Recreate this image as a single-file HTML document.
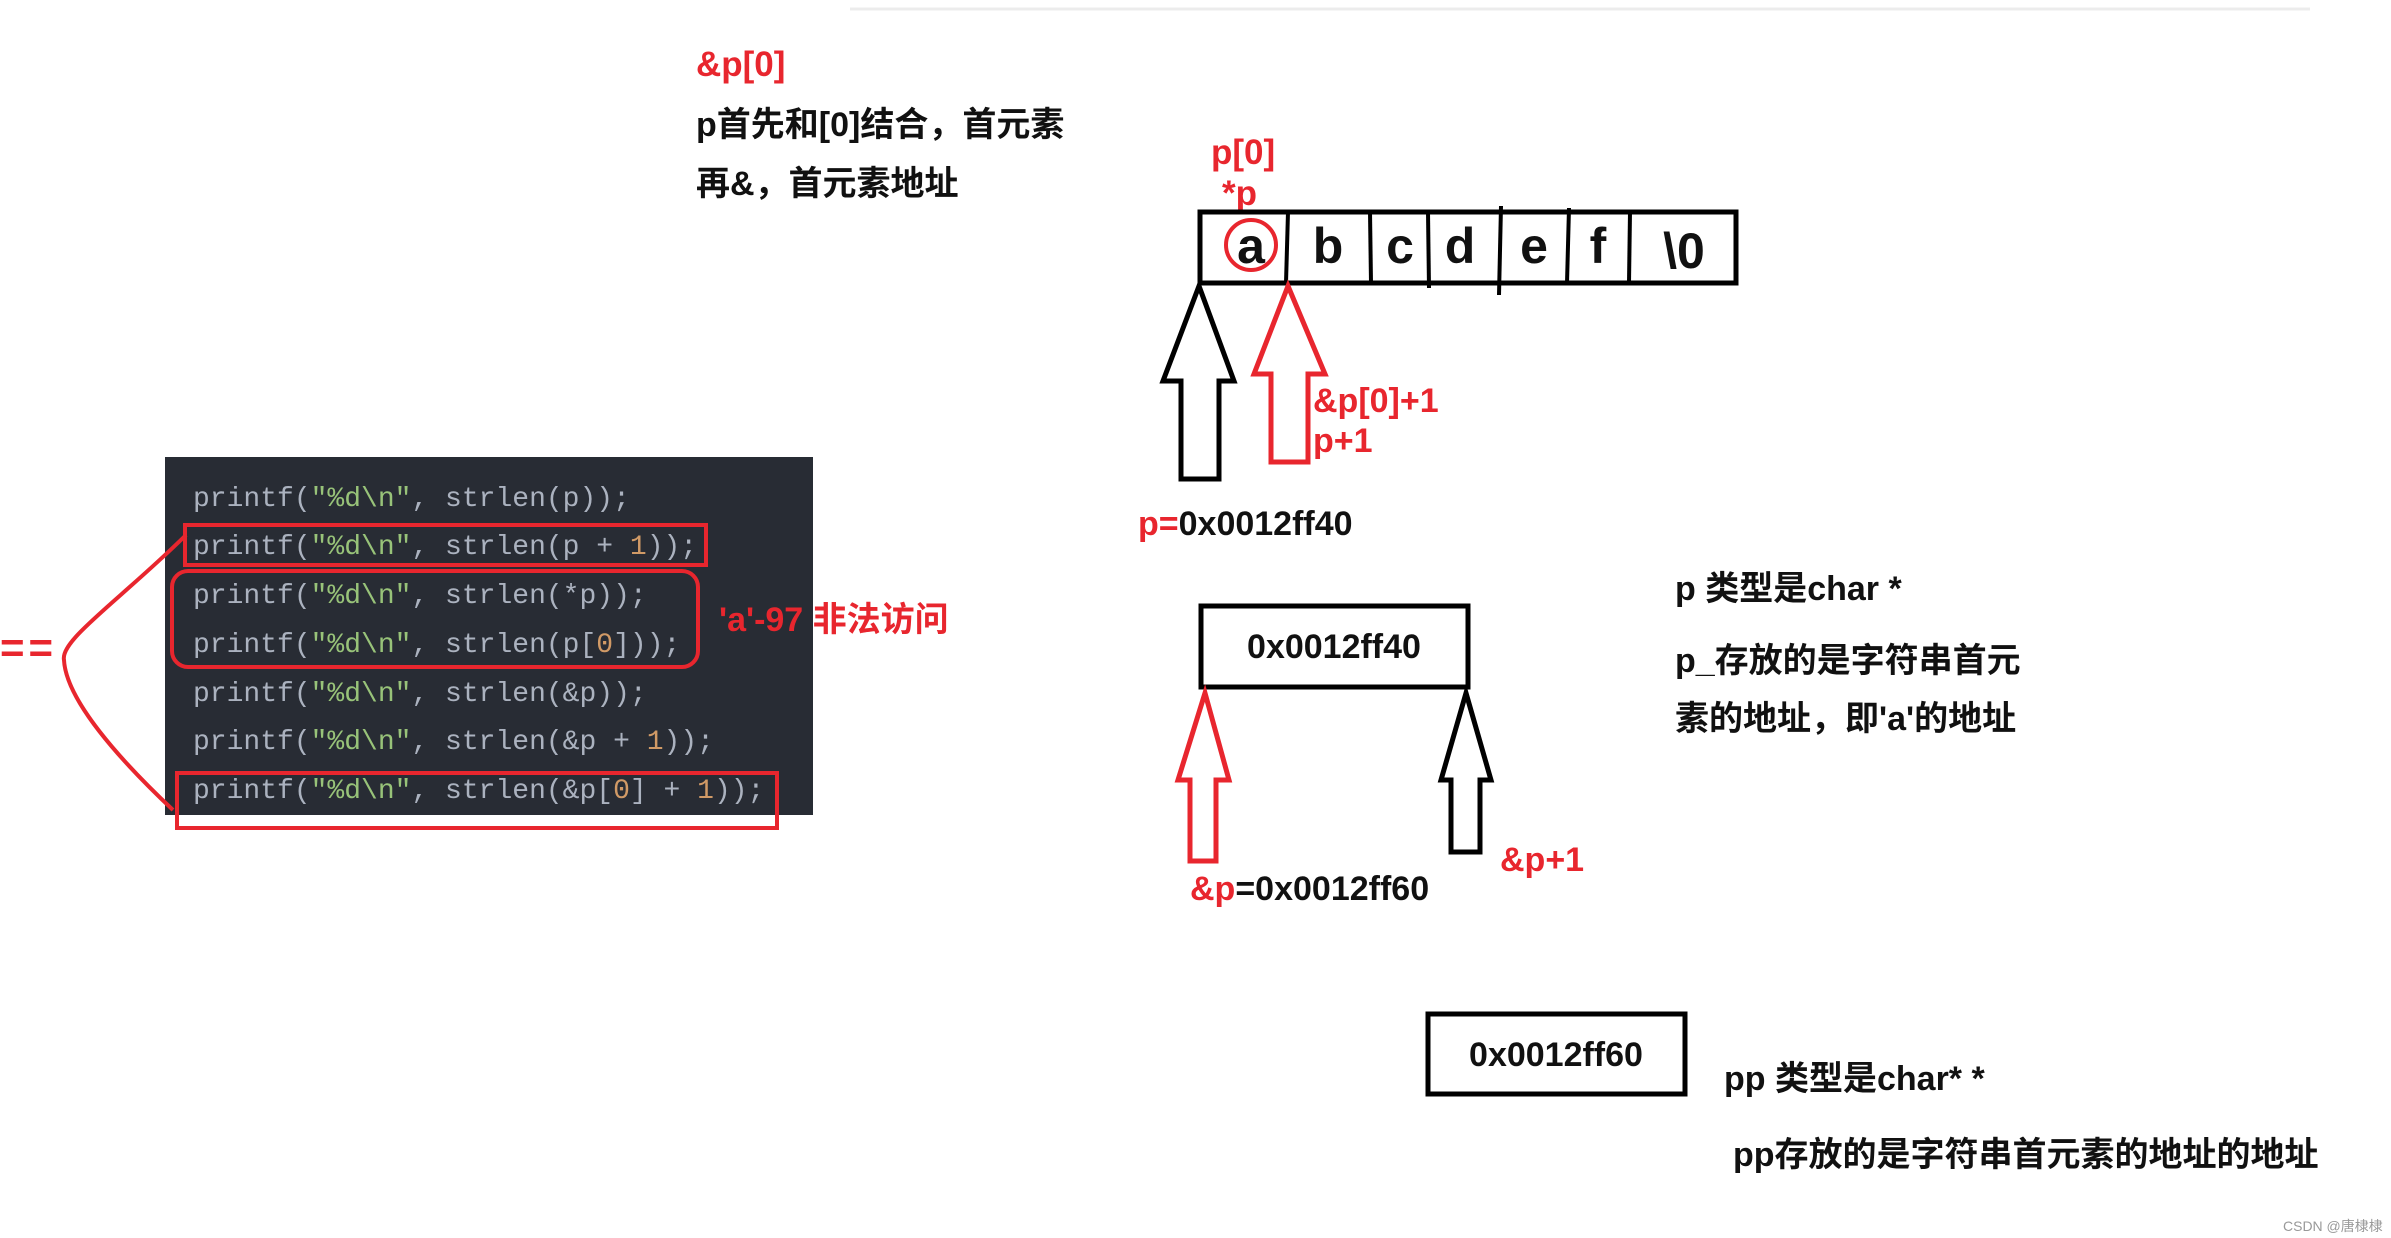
<!DOCTYPE html>
<html><head><meta charset="utf-8"><style>
html,body{margin:0;padding:0;background:#fff;}
svg{display:block;}
.t{font-family:"Liberation Sans","Noto Sans CJK SC",sans-serif;font-weight:bold;}
.c{font-family:"Liberation Mono","DejaVu Sans Mono",monospace;font-size:28px;fill:#abb2bf;}
.s{fill:#98c379}.n{fill:#d19a66}
</style></head><body>
<svg width="2391" height="1238" viewBox="0 0 2391 1238" xmlns="http://www.w3.org/2000/svg">
<line x1="850" y1="9" x2="2310" y2="9" stroke="#ececec" stroke-width="3"/>
<g class="t">
<text x="696" y="76" font-size="35" fill="#e8262e">&amp;p[0]</text>
<text x="696" y="136" font-size="34" fill="#111">p首先和[0]结合，首元素</text>
<text x="696" y="195" font-size="34" fill="#111">再&amp;，首元素地址</text>
<text x="1211" y="164" font-size="35" fill="#e8262e">p[0]</text>
<text x="1222" y="205" font-size="35" fill="#e8262e">*p</text>
</g>
<!-- array -->
<rect x="1200" y="212" width="536" height="71" fill="none" stroke="#000" stroke-width="5"/>
<g stroke="#000" stroke-width="4">
<line x1="1288" y1="212" x2="1286" y2="283"/><line x1="1370" y1="212" x2="1371" y2="283"/>
<line x1="1428" y1="212" x2="1429" y2="288"/><line x1="1501" y1="206" x2="1499" y2="295"/>
<line x1="1569" y1="208" x2="1567" y2="283"/><line x1="1630" y1="212" x2="1629" y2="283"/>
</g>
<g class="t" font-size="50" fill="#111" text-anchor="middle">
<text x="1251" y="263">a</text><text x="1328" y="263">b</text><text x="1400" y="263">c</text>
<text x="1460" y="263">d</text><text x="1534" y="263">e</text><text x="1598" y="263">f</text>
<text x="1684" y="268">\0</text></g>
<circle cx="1251" cy="245" r="25" fill="none" stroke="#e8262e" stroke-width="4"/>
<!-- arrows top -->
<polygon points="1199,286 1234,381 1219,381 1219,479 1181,479 1181,381 1163,381" fill="none" stroke="#000" stroke-width="5"/>
<polygon points="1288,286 1325,374 1308,374 1308,462 1271,462 1271,374 1254,374" fill="none" stroke="#e8262e" stroke-width="5"/>
<g class="t" font-size="34">
<text x="1313" y="412" fill="#e8262e">&amp;p[0]+1</text>
<text x="1313" y="452" fill="#e8262e">p+1</text>
<text x="1138" y="535" fill="#e8262e">p=<tspan fill="#111">0x0012ff40</tspan></text>
</g>
<!-- box 1 -->
<rect x="1201" y="606" width="267" height="81" fill="none" stroke="#000" stroke-width="5"/>
<text class="t" x="1334" y="658" font-size="34" fill="#111" text-anchor="middle">0x0012ff40</text>
<polygon points="1205,693 1229,780 1216,780 1216,861 1190,861 1190,780 1178,780" fill="none" stroke="#e8262e" stroke-width="5"/>
<polygon points="1466,693 1491,780 1480,780 1480,852 1451,852 1451,780 1441,780" fill="none" stroke="#000" stroke-width="5"/>
<g class="t" font-size="34">
<text x="1500" y="871" fill="#e8262e">&amp;p+1</text>
<text x="1190" y="900" fill="#e8262e">&amp;p<tspan fill="#111">=0x0012ff60</tspan></text>
<text x="1675" y="600" fill="#111">p 类型是char *</text>
<text x="1675" y="672" fill="#111">p_存放的是字符串首元</text>
<text x="1675" y="730" fill="#111">素的地址，即'a'的地址</text>
<text x="1724" y="1090" fill="#111">pp 类型是char* *</text>
<text x="1733" y="1166" fill="#111">pp存放的是字符串首元素的地址的地址</text>
</g>
<rect x="1428" y="1014" width="257" height="80" fill="none" stroke="#000" stroke-width="5"/>
<text class="t" x="1556" y="1066" font-size="34" fill="#111" text-anchor="middle">0x0012ff60</text>
<text x="2283" y="1231" font-family="Liberation Sans,Noto Sans CJK SC,sans-serif" font-size="14" fill="#999">CSDN @唐棣棣</text>
<!-- code -->
<rect x="165" y="457" width="648" height="358" fill="#282c34"/>
<g class="c">
<text x="193" y="506">printf(<tspan class="s">"%d\n"</tspan>, strlen(p));</text>
<text x="193" y="554">printf(<tspan class="s">"%d\n"</tspan>, strlen(p + <tspan class="n">1</tspan>));</text>
<text x="193" y="603">printf(<tspan class="s">"%d\n"</tspan>, strlen(*p));</text>
<text x="193" y="652">printf(<tspan class="s">"%d\n"</tspan>, strlen(p[<tspan class="n">0</tspan>]));</text>
<text x="193" y="701">printf(<tspan class="s">"%d\n"</tspan>, strlen(&amp;p));</text>
<text x="193" y="749">printf(<tspan class="s">"%d\n"</tspan>, strlen(&amp;p + <tspan class="n">1</tspan>));</text>
<text x="193" y="798">printf(<tspan class="s">"%d\n"</tspan>, strlen(&amp;p[<tspan class="n">0</tspan>] + <tspan class="n">1</tspan>));</text>
</g>
<g fill="none" stroke="#e8262e" stroke-width="4">
<rect x="185" y="525" width="521" height="40"/>
<rect x="172" y="571" width="526" height="96" rx="16"/>
<rect x="177" y="773" width="600" height="55"/>
<path d="M186,535 C120,600 60,640 64,660 C66,700 120,760 173,810"/>
</g>
<text class="t" x="719" y="631" font-size="34" fill="#e8262e">'a'-97 非法访问</text>
<text class="t" x="0" y="662" font-size="42" fill="#e8262e" letter-spacing="4">==</text>
</svg>
</body></html>
